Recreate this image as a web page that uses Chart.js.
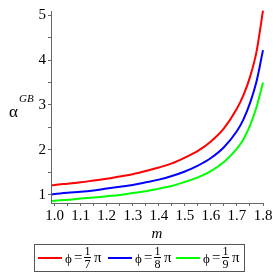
<!DOCTYPE html>
<html>
<head>
<meta charset="utf-8">
<title>alpha GB</title>
<script src="https://cdn.jsdelivr.net/npm/chart.js@4.4.0/dist/chart.umd.min.js"></script>
<style>
    html, body { margin: 0; padding: 0; background: #fff; }
    #wrap { position: relative; width: 278px; height: 278px; }
    #yTitle { position: absolute; left: 9px; top: 93px; font-family: 'Liberation Serif', serif; color: #000; }
    #yTitle .a { position: absolute; left: 0; top: 9px; font-size: 17px; }
    #yTitle .sup { position: absolute; left: 10px; top: -1px; font-size: 11px; font-style: italic; }
    #legend { position: absolute; left: 34px; top: 244px; width: 211px; height: 28px; box-sizing: border-box;
        border: 1px solid #555; font-family: 'Liberation Serif', serif; color: #000; }
    .item { position: absolute; top: 0; height: 26px; }
    .sw { position: absolute; top: 12px; width: 24px; height: 2px; }
    .lab { position: absolute; top: 0; left: 0; white-space: nowrap; font-size: 15px; }
    .lab .t { position: absolute; top: 4px; }
    .lab .phi { font-size: 13px; top: 6px; }
    .frac { position: absolute; top: 0; width: 7px; text-align: center; font-size: 12px; line-height: 12px; }
    .frac .n { display: block; border-bottom: 1px solid #000; }
    .frac .d { display: block; }
</style>
</head>
<body>
<div id="wrap">
    <canvas id="chart" width="278" height="278"></canvas>
    <div id="yTitle"><span class="a">α</span><span class="sup">GB</span></div>
    <div id="legend"></div>
</div>

<script>
    // m values (x) and alpha^GB for phi = pi/7, pi/8, pi/9
    const mValues = [0.99, 1.0, 1.05, 1.1, 1.15, 1.2, 1.25, 1.3, 1.35, 1.4, 1.45, 1.5, 1.55, 1.6, 1.65, 1.7, 1.725, 1.75, 1.775, 1.8]
    const alphaPi7 = [1.21, 1.22, 1.25, 1.28, 1.32, 1.36, 1.41, 1.46, 1.53, 1.61, 1.70, 1.83, 1.98, 2.19, 2.48, 2.92, 3.22, 3.62, 4.18, 5.10]
    const alphaPi8 = [1.01, 1.02, 1.05, 1.07, 1.10, 1.14, 1.18, 1.22, 1.28, 1.34, 1.42, 1.52, 1.65, 1.82, 2.06, 2.42, 2.68, 3.04, 3.52, 4.22]
    const alphaPi9 = [0.865, 0.87, 0.89, 0.92, 0.94, 0.97, 1.00, 1.04, 1.08, 1.14, 1.20, 1.29, 1.39, 1.53, 1.73, 2.03, 2.24, 2.54, 2.95, 3.50]

    const denoms = [7, 8, 9]
    const colors = ['#ff0000', '#0000ff', '#00ff00']

    const xTicks = [1.0, 1.05, 1.1, 1.15, 1.2, 1.25, 1.3, 1.35, 1.4, 1.45, 1.5, 1.55, 1.6, 1.65, 1.7, 1.75, 1.8]
    const yTicks = [1, 1.5, 2, 2.5, 3, 3.5, 4, 4.5, 5]

    const series = [alphaPi7, alphaPi8, alphaPi9]
    const font = { family: "'Liberation Serif', serif", size: 15 }
    const axisColor = '#666'

    const isMajor = v => Math.abs(v * 10 - Math.round(v * 10)) < 1e-6

    const chart = new Chart(document.getElementById('chart'), {
        type: 'line',
        data: {
            datasets: series.map((ys, i) => ({
                label: 'ϕ = 1/' + denoms[i] + ' π',
                data: mValues.map((m, j) => ({ x: m, y: ys[j] })),
                borderColor: colors[i],
                borderWidth: 2,
                pointRadius: 0,
                cubicInterpolationMode: 'monotone',
                clip: 5,
            })),
        },
        options: {
            responsive: false,
            animation: false,
            layout: { padding: { left: 0, right: 15, top: 10, bottom: 35 } },
            plugins: { legend: { display: false }, tooltip: { enabled: false } },
            scales: {
                x: {
                    type: 'linear',
                    min: 0.986,
                    max: 1.8,
                    afterBuildTicks: s => { s.ticks = xTicks.map(v => ({ value: v })) },
                    afterFit: s => { s.height = 40 },
                    ticks: {
                        color: '#000',
                        font,
                        padding: 1,
                        maxRotation: 0,
                        autoSkip: false,
                        callback: v => (isMajor(v) ? v.toFixed(1) : ''),
                    },
                    grid: { drawOnChartArea: false, tickLength: 3, tickColor: axisColor },
                    border: { color: axisColor },
                    title: {
                        display: true,
                        text: 'm',
                        color: '#000',
                        font: { family: "'Liberation Serif', serif", size: 15, style: 'italic' },
                        padding: { top: 2, bottom: 0 },
                    },
                },
                y: {
                    min: 0.82,
                    max: 5.09,
                    afterBuildTicks: s => { s.ticks = yTicks.map(v => ({ value: v })) },
                    afterFit: s => { s.width = 51 },
                    ticks: {
                        color: '#000',
                        font,
                        padding: 2,
                        autoSkip: false,
                        callback: v => (Number.isInteger(v) ? String(v) : ''),
                    },
                    grid: { drawOnChartArea: false, tickLength: 3, tickColor: axisColor },
                    border: { color: axisColor },
                },
            },
        },
    })

    // legend with stacked fractions, built from the same arrays
    const legend = document.getElementById('legend')
    const itemLeft = [3, 73, 141]
    denoms.forEach((d, i) => {
        const item = document.createElement('div')
        item.className = 'item'
        item.style.left = itemLeft[i] + 'px'
        item.innerHTML =
            `<span class="sw" style="left:0;background:${colors[i]}"></span>` +
            `<span class="lab">` +
            `<span class="t phi" style="left:27px">ϕ</span>` +
            `<span class="t" style="left:36px">=</span>` +
            `<span class="frac" style="left:46px"><span class="n">1</span><span class="d">${d}</span></span>` +
            `<span class="t" style="left:56px">π</span></span>`
        legend.appendChild(item)
    })
</script>
</body>
</html>
